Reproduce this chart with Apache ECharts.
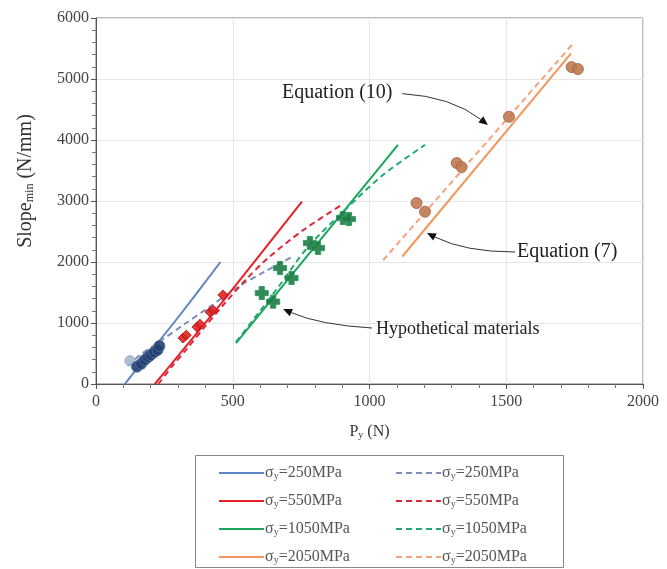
<!DOCTYPE html>
<html>
<head>
<meta charset="utf-8">
<script src="https://cdn.jsdelivr.net/npm/echarts@6/dist/echarts.min.js"></script>
<style>html,body{margin:0;padding:0;background:#fff}#c{width:667px;height:569px}</style>
</head>
<body>
<div id="c"></div>
<script>
// ---- data ----
var blueSolidX = [105, 130, 200, 300, 455];
var blueSolidY = [0, 140, 530, 1090, 2000];
var blueDashX = [115, 160, 234, 320, 417, 519, 620, 720];
var blueDashY = [300, 470, 700, 970, 1270, 1590, 1850, 2090];
var redSolidX = [215, 300, 472, 753];
var redSolidY = [0, 460, 1400, 2990];
var redDashX = [228, 280, 329, 400, 472, 550, 629, 760, 903];
var redDashY = [0, 300, 560, 950, 1330, 1720, 2065, 2530, 2950];
var greenSolidX = [512, 1104];
var greenSolidY = [672, 3920];
var greenDashX = [512, 600, 665, 775, 910, 1050, 1203];
var greenDashY = [690, 1200, 1580, 2246, 2852, 3430, 3920];
var orangeSolidX = [1120, 1737];
var orangeSolidY = [2090, 5420];
var orangeDashX = [1050, 1750];
var orangeDashY = [2030, 5610];

var blueLightPtsX = [124];
var blueLightPtsY = [382];
var bluePtsX = [150, 165, 178, 190, 200, 212, 225, 232];
var bluePtsY = [284, 330, 393, 440, 475, 520, 557, 623];
var redPtsX = [318, 330, 369, 380, 417, 428, 464];
var redPtsY = [754, 800, 934, 980, 1180, 1210, 1459];
var greenPtsX = [606, 648, 673, 715, 782, 812, 903, 925];
var greenPtsY = [1491, 1349, 1901, 1737, 2311, 2229, 2721, 2704];
var orangePtsX = [1172, 1203, 1319, 1337, 1510, 1739, 1762];
var orangePtsY = [2967, 2825, 3622, 3556, 4381, 5195, 5163];

var stressLevels = ['250', '550', '1050', '2050'];
var xTicks = [0, 500, 1000, 1500, 2000];
var yTicks = [0, 1000, 2000, 3000, 4000, 5000, 6000];

// annotations: [label, textX, textY, startX, startY, ctrlX, ctrlY, tipX, tipY, fontSize] in data units
var annotations = [
  ['Equation (10)', 680, 4770, 1120, 4760, 1300, 4710, 1433, 4246, 20],
  ['Equation (7)', 1539, 2164, 1532, 2164, 1349, 2164, 1210, 2475, 20],
  ['Hypothetical materials', 1024, 902, 1009, 918, 819, 967, 684, 1229, 18]
];

function zip(xs, ys) { return xs.map(function (x, i) { return [x, ys[i]]; }); }

var serif = 'Liberation Serif';
var colors = {
  blue: '#5f84c2', blueDash: '#7c8fb9',
  red: '#e8202a', redDash: '#d8283a',
  green: '#18a65a', greenDash: '#22a878',
  orange: '#f0975e', orangeDash: '#f4a37a'
};

function lineSeries(name, xs, ys, color, dashed) {
  return {
    type: 'line', name: name, data: zip(xs, ys), showSymbol: false, symbol: 'none',
    smooth: dashed ? 0.3 : 0.2, z: 3,
    lineStyle: { color: color, width: 2, type: dashed ? [6, 4] : 'solid' },
    itemStyle: { color: color }
  };
}
function ptsSeries(xs, ys, color, border, symbol, size) {
  return {
    type: 'scatter', data: zip(xs, ys), symbol: symbol, symbolSize: size, z: 4,
    itemStyle: { color: color, borderColor: border, borderWidth: 1, opacity: 0.9 }
  };
}

var crossPath = 'path://M3,0 L7,0 L7,3 L10,3 L10,7 L7,7 L7,10 L3,10 L3,7 L0,7 L0,3 L3,3 Z';

var series = [
  lineSeries('s250', blueSolidX, blueSolidY, colors.blue, false),
  lineSeries('d250', blueDashX, blueDashY, colors.blueDash, true),
  lineSeries('s550', redSolidX, redSolidY, colors.red, false),
  lineSeries('d550', redDashX, redDashY, colors.redDash, true),
  lineSeries('s1050', greenSolidX, greenSolidY, colors.green, false),
  lineSeries('d1050', greenDashX, greenDashY, colors.greenDash, true),
  lineSeries('s2050', orangeSolidX, orangeSolidY, colors.orange, false),
  lineSeries('d2050', orangeDashX, orangeDashY, colors.orangeDash, true),
  ptsSeries(blueLightPtsX, blueLightPtsY, '#a9b8d4', '#8fa0c0', 'circle', 10),
  ptsSeries(bluePtsX, bluePtsY, '#24406e', '#4a6a9c', 'circle', 11),
  ptsSeries(redPtsX, redPtsY, '#e02424', '#b01818', 'diamond', 10),
  ptsSeries(greenPtsX, greenPtsY, '#1e7a45', '#2e9a5c', crossPath, 13),
  ptsSeries(orangePtsX, orangePtsY, '#c07a52', '#a86848', 'circle', 11)
];

var legendText = {};
stressLevels.forEach(function (s) {
  legendText['s' + s] = '{g|σ}{sub|y}{t|=' + s + 'MPa}';
  legendText['d' + s] = '{g|σ}{sub|y}{t|=' + s + 'MPa}';
});
var legendRich = {
  g: { fontFamily: serif, fontSize: 16, color: '#555' },
  sub: { fontFamily: serif, fontSize: 10, color: '#555', verticalAlign: 'bottom', padding: [5, 0, 0, 0] },
  t: { fontFamily: serif, fontSize: 16, color: '#555' }
};
function mkLegend(left, names) {
  return {
    orient: 'vertical', left: left, top: 465, height: 104, padding: 0,
    itemGap: 12, itemWidth: 45, itemHeight: 16,
    data: names, selectedMode: false,
    itemStyle: { opacity: 0 },
    formatter: function (n) { return legendText[n]; },
    textStyle: { rich: legendRich, padding: [0, 0, 0, -4] }
  };
}

var chart = echarts.init(document.getElementById('c'), null, { renderer: 'canvas' });
chart.setOption({
  animation: false,
  backgroundColor: '#fff',
  grid: { left: 96, right: 24, top: 18, bottom: 185, show: true, borderColor: '#777', borderWidth: 1 },
  xAxis: {
    type: 'value', min: xTicks[0], max: xTicks[xTicks.length - 1], interval: 500,
    name: '{a|P}{s|y}{a| (N)}', nameLocation: 'middle', nameGap: 40,
    nameTextStyle: { rich: { a: { fontFamily: serif, fontSize: 16, color: '#333' },
      s: { fontFamily: serif, fontSize: 10, color: '#333', verticalAlign: 'bottom', padding: [6, 0, 0, 0] } } },
    axisLine: { lineStyle: { color: '#555' } },
    axisTick: { inside: false, length: 5, lineStyle: { color: '#555' } },
    minorTick: { show: true, splitNumber: 5, length: 4, lineStyle: { color: '#777' } },
    axisLabel: { fontFamily: serif, fontSize: 16, color: '#444', margin: 10,
      formatter: function (v) { return String(v); } },
    splitLine: { lineStyle: { color: '#e6e6e6' } }
  },
  yAxis: {
    type: 'value', min: yTicks[0], max: yTicks[yTicks.length - 1], interval: 1000,
    name: '{a|Slope}{s|min}{a| (N/mm)}', nameLocation: 'middle', nameGap: 60, nameRotate: 90,
    nameTextStyle: { padding: [0, 0, 0, 40],
      rich: { a: { fontFamily: serif, fontSize: 20, color: '#333' },
      s: { fontFamily: serif, fontSize: 12, color: '#333', verticalAlign: 'bottom', padding: [9, 0, 0, 0] } } },
    axisLine: { show: true, lineStyle: { color: '#555' } },
    axisTick: { show: true, length: 5, lineStyle: { color: '#555' } },
    minorTick: { show: true, splitNumber: 5, length: 4, lineStyle: { color: '#777' } },
    axisLabel: { fontFamily: serif, fontSize: 16, color: '#444', margin: 7,
      formatter: function (v) { return String(v); } },
    splitLine: { lineStyle: { color: '#e6e6e6' } }
  },
  legend: [
    mkLegend(218, ['s250', 's550', 's1050', 's2050']),
    mkLegend(395, ['d250', 'd550', 'd1050', 'd2050'])
  ],
  series: series
});

// annotation graphics positioned through the chart's own coordinate conversion
var g = [{
  type: 'rect', shape: { x: 195.5, y: 455.5, width: 368, height: 112 },
  style: { fill: 'none', stroke: '#888', lineWidth: 1 }, z: 1
}];
annotations.forEach(function (a) {
  var p = function (x, y) { return chart.convertToPixel({ gridIndex: 0 }, [x, y]); };
  var t = p(a[1], a[2]), s = p(a[3], a[4]), c = p(a[5], a[6]), e = p(a[7], a[8]);
  g.push({ type: 'text', x: t[0], y: t[1], z: 10,
    style: { text: a[0], fontFamily: serif, fontSize: a[9], fill: '#222',
      textAlign: 'left', textVerticalAlign: 'middle' } });
  var dx = e[0] - c[0], dy = e[1] - c[1], L = Math.sqrt(dx * dx + dy * dy);
  var ux = dx / L, uy = dy / L, hl = 9, hw = 4;
  var bx = e[0] - ux * hl, by = e[1] - uy * hl;
  g.push({ type: 'bezierCurve', z: 10,
    shape: { x1: s[0], y1: s[1], cpx1: c[0], cpy1: c[1], x2: bx, y2: by },
    style: { stroke: '#333', lineWidth: 1, fill: 'none' } });
  g.push({ type: 'polygon', z: 10,
    shape: { points: [[e[0], e[1]], [bx - uy * hw, by + ux * hw], [bx + uy * hw, by - ux * hw]] },
    style: { fill: '#111' } });
});
chart.setOption({ graphic: g });
</script>
</body>
</html>
